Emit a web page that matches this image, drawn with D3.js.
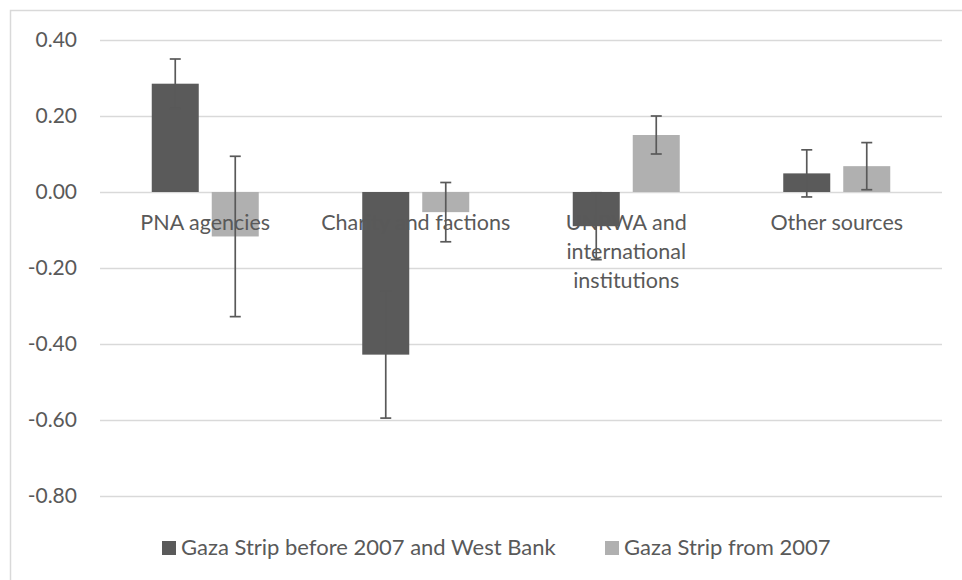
<!DOCTYPE html>
<html>
<head>
<meta charset="utf-8">
<script src="https://cdn.jsdelivr.net/npm/d3@7"></script>
<style>
  html, body { margin: 0; padding: 0; background: #fff; }
  svg { display: block; font-family: Lato, "Open Sans", sans-serif; }
</style>
</head>
<body>
<svg id="chart" width="962" height="580"></svg>
<script>
const categories = ["PNA agencies", "Charity and factions", "UNRWA and international institutions", "Other sources"];
const categoryLines = [["PNA agencies"], ["Charity and factions"], ["UNRWA and", "international", "institutions"], ["Other sources"]];
const seriesNames = ["Gaza Strip before 2007 and West Bank", "Gaza Strip from 2007"];
const valuesBefore = [0.285, -0.428, -0.09, 0.049];
const errorsBefore = [0.065, 0.167, 0.088, 0.062];
const valuesFrom = [-0.117, -0.053, 0.150, 0.068];
const errorsFrom = [0.211, 0.078, 0.050, 0.062];
const tickValues = [0.4, 0.2, 0, -0.2, -0.4, -0.6, -0.8];
const colors = ["#5a5a5a", "#b0b0b0"];

const svg = d3.select("#chart");
const textColor = "#595959";

// chart border (only top & left visible)
svg.append("rect").attr("x", 10.5).attr("y", 10.5).attr("width", 1000).attr("height", 1000)
  .attr("fill", "none").attr("stroke", "#d9d9d9").attr("stroke-width", 1.5);

const y = d3.scaleLinear().domain([-0.8, 0.4]).range([496, 40]);
const x = d3.scaleBand().domain(categories).range([100, 942]).paddingInner(0).paddingOuter(0);
const xs = d3.scaleBand().domain([0, 1]).range([-53.5, 53.5]).paddingInner(2 - 107 / 60);

// gridlines
svg.append("g").selectAll("line").data(tickValues).join("line")
  .attr("x1", 100).attr("x2", 942)
  .attr("y1", d => Math.round(y(d)) + 0.5).attr("y2", d => Math.round(y(d)) + 0.5)
  .attr("stroke", "#d9d9d9").attr("stroke-width", 1.5);

// y axis labels
const yAxis = d3.axisLeft(y).tickValues(tickValues).tickFormat(d => d.toFixed(2)).tickSize(0).tickPadding(0);
const ya = svg.append("g").attr("transform", "translate(77,0)").call(yAxis);
ya.select(".domain").remove();
ya.selectAll("text").attr("fill", textColor).style("font-size", "21px").style("font-family", "Lato, sans-serif");

const series = [
  { vals: valuesBefore, errs: errorsBefore },
  { vals: valuesFrom, errs: errorsFrom }
];

// bars
series.forEach((s, si) => {
  svg.append("g").selectAll("rect").data(categories).join("rect")
    .attr("x", d => x(d) + x.bandwidth() / 2 + xs(si))
    .attr("width", xs.bandwidth())
    .attr("y", (d, i) => y(Math.max(0, s.vals[i])))
    .attr("height", (d, i) => Math.abs(y(s.vals[i]) - y(0)))
    .attr("fill", colors[si]);
});

// category labels
const lab = svg.append("g");
categories.forEach((c, i) => {
  const t = lab.append("text").attr("x", x(c) + x.bandwidth() / 2).attr("y", 230)
    .attr("text-anchor", "middle").attr("fill", textColor).style("font-size", "21.5px");
  categoryLines[i].forEach((ln, li) => {
    t.append("tspan").attr("x", x(c) + x.bandwidth() / 2).attr("dy", li === 0 ? 0 : 29).text(ln);
  });
});

// error bars
series.forEach((s, si) => {
  const g = svg.append("g").attr("stroke", "#595959").attr("stroke-width", 1.7);
  categories.forEach((c, i) => {
    const cx = x(c) + x.bandwidth() / 2 + xs(si) + xs.bandwidth() / 2;
    const hi = y(s.vals[i] + s.errs[i]), lo = y(s.vals[i] - s.errs[i]);
    g.append("line").attr("x1", cx).attr("x2", cx).attr("y1", hi).attr("y2", lo);
    g.append("line").attr("x1", cx - 5.5).attr("x2", cx + 5.5).attr("y1", hi).attr("y2", hi);
    g.append("line").attr("x1", cx - 5.5).attr("x2", cx + 5.5).attr("y1", lo).attr("y2", lo);
  });
});

// legend
const leg = svg.append("g");
const legX = [162, 605];
seriesNames.forEach((n, i) => {
  leg.append("rect").attr("x", legX[i]).attr("y", 541).attr("width", 14).attr("height", 14).attr("fill", colors[i]);
  leg.append("text").attr("x", legX[i] + 19).attr("y", 555).attr("fill", textColor)
    .style("font-size", "22px").text(n);
});
</script>
</body>
</html>
